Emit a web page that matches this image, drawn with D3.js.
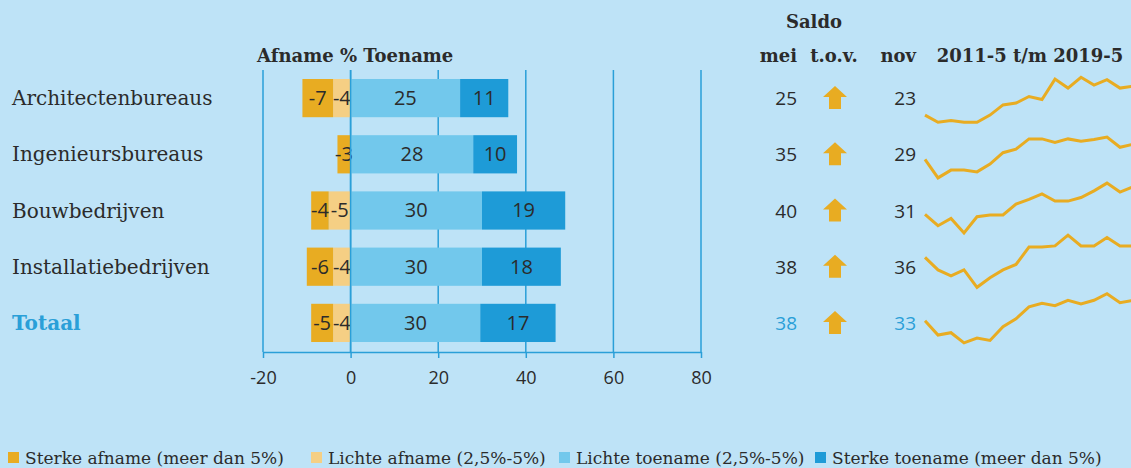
<!DOCTYPE html>
<html>
<head>
<meta charset="utf-8">
<script src="https://cdn.jsdelivr.net/npm/d3@7"></script>
<style>
  body { margin: 0; background: #bee3f7; }
  svg { display: block; }
</style>
</head>
<body>
<script>
// data
var categories = ["Architectenbureaus", "Ingenieursbureaus", "Bouwbedrijven", "Installatiebedrijven", "Totaal"];
var sterkeAfname = [-7, -3, -4, -6, -5];
var lichteAfname = [-4, 0, -5, -4, -4];
var lichteToename = [25, 28, 30, 30, 29.6];
var sterkeToename = [11, 10, 19, 18, 17.2];
var saldoMei = [25, 35, 40, 38, 38];
var saldoNov = [23, 29, 31, 36, 33];
var xTicks = [-20, 0, 20, 40, 60, 80];
var legendLabels = ["Sterke afname (meer dan 5%)", "Lichte afname (2,5%-5%)", "Lichte toename (2,5%-5%)", "Sterke toename (meer dan 5%)"];
// saldo 2011-5 t/m 2019-5, half-yearly (estimated)
var trend = [
  [-25, -37, -34, -37, -37, -25, -8, -5, 6, 1, 35, 20, 38, 25, 34, 20, 23],
  [-5, -36, -23, -23, -26, -13, 6, 12, 29, 29, 23, 29, 25, 28, 32, 15, 20],
  [-3, -22, -10, -34, -7, -4, -4, 14, 22, 31, 19, 19, 25, 36, 49, 34, 43],
  [19, -2, -12, -2, -31, -15, -2, 7, 36, 36, 38, 56, 38, 38, 52, 38, 38],
  [7, -17, -13, -30, -22, -26, -3, 10, 30, 36, 32, 41, 35, 41, 52, 37, 41]
];

var colors = ["#e8ac22", "#f5cf84", "#72c8ec", "#1e9bd7"];
var blue = "#2a9fd8";
var ink = "#2b2b2b";
var serif = "'DejaVu Serif', serif";
var sans = "'Open Sans', 'Noto Sans', sans-serif";

var W = 1131, H = 468;
var svg = d3.select("body").append("svg").attr("width", W).attr("height", H);
svg.append("rect").attr("width", W).attr("height", H).attr("fill", "#bee3f7");

var x = d3.scaleLinear().domain([-20, 80]).range([263, 701]);
var y = d3.scaleBand().domain(categories).range([70, 351]).paddingInner(0.32).paddingOuter(0.16);

// grid lines
svg.append("g").selectAll("line").data(xTicks).enter().append("line")
  .attr("x1", function (d) { return x(d); })
  .attr("x2", function (d) { return x(d); })
  .attr("y1", 70).attr("y2", 352)
  .attr("stroke", blue).attr("stroke-width", 1.5);

// stacked segments
var rows = categories.map(function (c, i) {
  var segs = [];
  segs.push({ x0: lichteAfname[i], x1: 0, v: lichteAfname[i], k: 1 });
  segs.push({ x0: lichteAfname[i] + sterkeAfname[i], x1: lichteAfname[i], v: sterkeAfname[i], k: 0 });
  segs.push({ x0: 0, x1: lichteToename[i], v: lichteToename[i], k: 2 });
  segs.push({ x0: lichteToename[i], x1: lichteToename[i] + sterkeToename[i], v: sterkeToename[i], k: 3 });
  return { cat: c, segs: segs.filter(function (s) { return s.v !== 0; }) };
});

var g = svg.append("g").selectAll("g").data(rows).enter().append("g")
  .attr("transform", function (d) { return "translate(0," + y(d.cat) + ")"; });

g.selectAll("rect").data(function (d) { return d.segs; }).enter().append("rect")
  .attr("x", function (d) { return x(d.x0); })
  .attr("width", function (d) { return x(d.x1) - x(d.x0); })
  .attr("height", y.bandwidth())
  .attr("fill", function (d) { return colors[d.k]; });

// zero line over the bars
svg.append("line").attr("x1", x(0)).attr("x2", x(0)).attr("y1", 70).attr("y2", 352)
  .attr("stroke", blue).attr("stroke-width", 1.5);

g.selectAll("text").data(function (d) { return d.segs; }).enter().append("text")
  .attr("x", function (d) { return (x(d.x0) + x(d.x1)) / 2; })
  .attr("y", y.bandwidth() / 2 + 7)
  .attr("text-anchor", "middle")
  .attr("font-family", sans).attr("font-size", 20).attr("fill", ink)
  .text(function (d) { return Math.round(d.v); });

// x axis
var axis = svg.append("g").attr("transform", "translate(0,352)")
  .call(d3.axisBottom(x).tickValues(xTicks).tickSize(6).tickSizeOuter(0).tickFormat(function (d) { return String(d); }));
axis.select(".domain").attr("stroke", blue).attr("stroke-width", 1.5);
axis.selectAll(".tick line").attr("stroke", blue).attr("stroke-width", 1.5);
axis.selectAll(".tick text").attr("font-family", sans).attr("font-size", 18).attr("fill", ink).attr("dy", "1.3em");

// category labels
svg.append("g").selectAll("text").data(categories).enter().append("text")
  .attr("x", 12)
  .attr("y", function (d) { return y(d) + y.bandwidth() / 2 + 7; })
  .attr("font-family", serif).attr("font-size", 20)
  .attr("font-weight", function (d, i) { return i === categories.length - 1 ? "bold" : "normal"; })
  .attr("fill", function (d, i) { return i === categories.length - 1 ? blue : ink; })
  .text(function (d) { return d; });

// headers
function header(txt, xx, yy, anchor) {
  svg.append("text").attr("x", xx).attr("y", yy).attr("text-anchor", anchor || "start")
    .attr("font-family", serif).attr("font-weight", "bold").attr("font-size", 18).attr("fill", ink)
    .text(txt);
}
header("Afname % Toename", 257, 62);
header("Saldo", 814, 28, "middle");
header("mei", 797, 62, "end");
header("t.o.v.", 834, 62, "middle");
header("nov", 916, 62, "end");
header("2011-5 t/m 2019-5", 1030, 62, "middle");

// saldo values
var last = categories.length - 1;
svg.append("g").selectAll("text").data(saldoMei).enter().append("text")
  .attr("x", 797).attr("y", function (d, i) { return y(categories[i]) + y.bandwidth() / 2 + 7; })
  .attr("text-anchor", "end").attr("font-family", sans).attr("font-size", 19)
  .attr("fill", function (d, i) { return i === last ? blue : ink; })
  .text(function (d) { return d; });
svg.append("g").selectAll("text").data(saldoNov).enter().append("text")
  .attr("x", 916).attr("y", function (d, i) { return y(categories[i]) + y.bandwidth() / 2 + 7; })
  .attr("text-anchor", "end").attr("font-family", sans).attr("font-size", 19)
  .attr("fill", function (d, i) { return i === last ? blue : ink; })
  .text(function (d) { return d; });

// arrows (mei higher than nov)
svg.append("g").selectAll("path").data(saldoMei).enter().append("path")
  .attr("transform", function (d, i) { return "translate(835," + (y(categories[i]) + y.bandwidth() / 2) + ")"; })
  .attr("d", function (d, i) {
    return d >= saldoNov[i] ? "M0,-12L12,-1L6,-1L6,11L-6,11L-6,-1L-12,-1Z" : "M0,12L12,1L6,1L6,-11L-6,-11L-6,1L-12,1Z";
  })
  .attr("fill", "#e8ac22");

// sparklines
var sx = d3.scaleLinear().domain([0, 16]).range([925, 1133]);
var sy = d3.scaleLinear().domain([0, 10]).range([0, -6]);
var line = d3.line().x(function (d, i) { return sx(i); }).y(function (d) { return sy(d); });
svg.append("g").selectAll("path").data(trend).enter().append("path")
  .attr("transform", function (d, i) { return "translate(0," + (y(categories[i]) + y.bandwidth() / 2 + 2) + ")"; })
  .attr("d", line)
  .attr("fill", "none").attr("stroke", "#e8ac22").attr("stroke-width", 3).attr("stroke-linejoin", "miter");

// legend
var legX = [8, 311, 559, 815];
var leg = svg.append("g").selectAll("g").data(legendLabels).enter().append("g")
  .attr("transform", function (d, i) { return "translate(" + legX[i] + ",0)"; });
leg.append("rect").attr("y", 452).attr("width", 11).attr("height", 11)
  .attr("fill", function (d, i) { return colors[i]; });
leg.append("text").attr("x", 17).attr("y", 464)
  .attr("font-family", serif).attr("font-size", 17).attr("fill", ink)
  .text(function (d) { return d; });
</script>
</body>
</html>
